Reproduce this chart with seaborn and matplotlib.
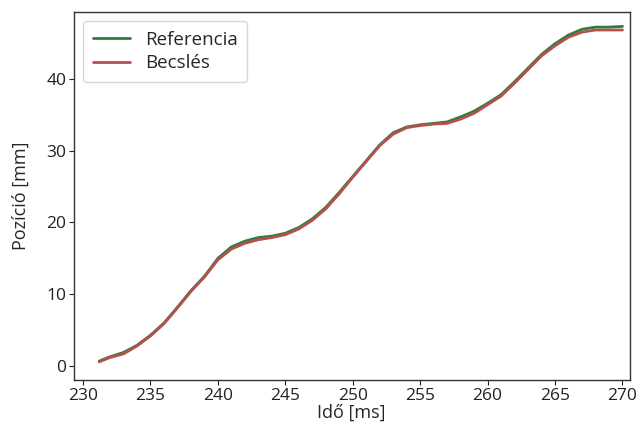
import matplotlib
matplotlib.use("Agg")
import matplotlib.pyplot as plt
import seaborn as sns
import pandas as pd

time_ms = [231.2, 232, 233, 234, 235, 236, 237, 238, 239, 240, 241, 242, 243, 244,
           245, 246, 247, 248, 249, 250, 251, 252, 253, 254, 255, 256, 257, 258,
           259, 260, 261, 262, 263, 264, 265, 266, 267, 268, 269, 270]
referencia = [0.7, 1.3, 1.9, 2.9, 4.3, 6.0, 8.2, 10.5, 12.5, 15.0, 16.6, 17.4, 17.9, 18.1,
              18.5, 19.3, 20.5, 22.1, 24.2, 26.4, 28.6, 30.8, 32.5, 33.3, 33.6, 33.8,
              34.0, 34.7, 35.5, 36.6, 37.8, 39.6, 41.5, 43.4, 44.9, 46.1, 46.9, 47.2,
              47.2, 47.3]
becsles = [0.6, 1.2, 1.7, 2.8, 4.2, 5.9, 8.1, 10.4, 12.4, 14.8, 16.3, 17.1, 17.6, 17.9,
           18.3, 19.1, 20.3, 21.9, 24.0, 26.3, 28.5, 30.7, 32.3, 33.2, 33.5, 33.7,
           33.8, 34.4, 35.2, 36.4, 37.6, 39.4, 41.3, 43.2, 44.6, 45.8, 46.5, 46.8,
           46.8, 46.8]
series_names = ["Referencia", "Becslés"]

sns.set_style("ticks")
plt.rcParams["font.family"] = ["Open Sans", "DejaVu Sans"]

df = pd.DataFrame({
    "t": time_ms * 2,
    "pos": referencia + becsles,
    "series": [series_names[0]] * len(time_ms) + [series_names[1]] * len(time_ms),
})

fig = plt.figure(figsize=(6.4, 4.3), dpi=100)
ax = fig.add_axes([0.1156, 0.116, 0.868, 0.856])
sns.lineplot(data=df, x="t", y="pos", hue="series",
             palette={"Referencia": "#2f7d3a", "Becslés": "#b5504f"},
             linewidth=2, ax=ax)
ax.set_xlim(229.33, 270.52)
ax.set_ylim(-1.95, 49.3)
ax.set_xticks([230, 235, 240, 245, 250, 255, 260, 265, 270])
ax.set_yticks([0, 10, 20, 30, 40])
ax.tick_params(labelsize=12.5, colors="#222222", pad=2)
ax.set_xlabel("Idő [ms]", fontsize=13, labelpad=0)
ax.set_ylabel("Pozíció [mm]", fontsize=13, labelpad=12)
for s in ax.spines.values():
    s.set_color("#333333")
    s.set_linewidth(1.0)
leg = ax.legend(loc="upper left", fontsize=13.5, frameon=True,
                borderaxespad=0.5, handlelength=2.0, labelspacing=0.3,
                borderpad=0.5)
leg.get_frame().set_edgecolor("#cccccc")
fig.savefig("out.png", dpi=100)
